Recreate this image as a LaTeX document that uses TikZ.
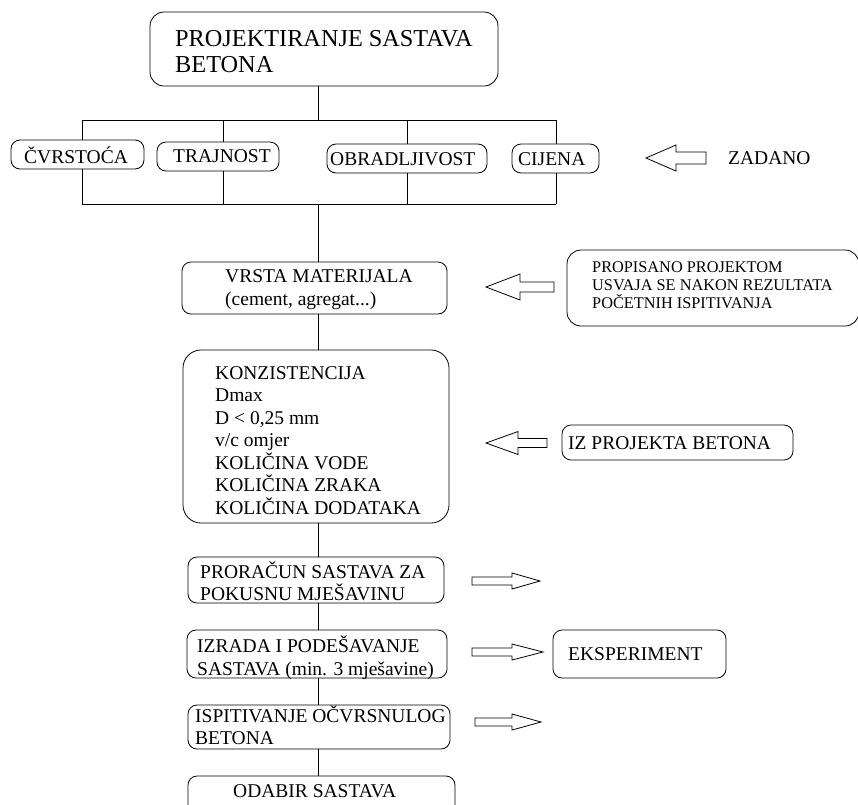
\documentclass[tikz,border=0pt]{standalone}
\usepackage{fontspec}
\setmainfont{Liberation Serif}
\newcommand\hollowarrow[6]{% tail, base, tip, y, shaft half, head half
  \draw[arr] ({#1},{#4-#5}) -- ({#2},{#4-#5}) -- ({#2},{#4-#6}) -- ({#3},{#4})
    -- ({#2},{#4+#6}) -- ({#2},{#4+#5}) -- ({#1},{#4+#5}) -- cycle;}
\begin{document}
\begin{tikzpicture}[x=1pt,y=-1pt,
  box/.style={draw, line width=0.8pt, rounded corners=9pt, inner sep=0pt},
  txt/.style={inner sep=0pt, anchor=base west, font=\fontsize{19.5}{22}\selectfont},
  small/.style={inner sep=0pt, anchor=base west, font=\fontsize{16.3}{18}\selectfont},
  big/.style={inner sep=0pt, anchor=base west, font=\fontsize{24.3}{26}\selectfont},
  arr/.style={draw, line width=0.8pt, line join=miter},
  conn/.style={draw, line width=0.8pt}]
\useasboundingbox (0,0) rectangle (858,804);
\fill[white] (0,0) rectangle (858,804);
\coordinate (axis) at (318,0);

% title
\node[box, rounded corners=14pt, minimum width=348pt, minimum height=74pt] (title) at (324,49) {};
\node[big] (title1) at (175,46.7) {PROJEKTIRANJE SASTAVA};
\node[big] (title2) at (175,72.7) {BETONA};

% bus coordinates
\coordinate (bt) at (318,120);
\coordinate (bL) at (82,120);
\coordinate (b2) at (223,120);
\coordinate (b3) at (407,120);
\coordinate (bR) at (556,120);
\coordinate (cL) at (82,204);
\coordinate (cR) at (556,204);
\coordinate (cm) at (318,204);

% requirement boxes
\node[box, minimum width=133pt, minimum height=29pt] (cv) at (77.5,154.5) {};
\node[txt] (cvt) at (24,163) {ČVRSTOĆA};
\node[box, minimum width=122pt, minimum height=29pt] (tr) at (218,156.5) {};
\node[txt] (trt) at (173,162) {TRAJNOST};
\node[box, minimum width=160pt, minimum height=29pt] (ob) at (407,158.5) {};
\node[txt] (obt) at (330,165) {OBRADLJIVOST};
\node[box, minimum width=87pt, minimum height=29pt] (ci) at (555.5,158.5) {};
\node[txt] (cit) at (518,165) {CIJENA};

\hollowarrow{706}{676}{646}{158}{6}{13}
\node[txt] (zad) at (728,164) {ZADANO};

% connectors of the bus
\draw[conn] (bt |- title.south) -- (bt);
\draw[conn] (bL) -- (bR);
\draw[conn] (bL) -- (bL |- cv.north);
\draw[conn] (b2) -- (b2 |- tr.north);
\draw[conn] (b3) -- (b3 |- ob.north);
\draw[conn] (bR) -- (bR |- ci.north);
\draw[conn] (bL |- cv.south) -- (cL);
\draw[conn] (b2 |- tr.south) -- (b2 |- cm);
\draw[conn] (b3 |- ob.south) -- (b3 |- cm);
\draw[conn] (bR |- ci.south) -- (cR);
\draw[conn] (cL) -- (cR);

% material
\node[box, minimum width=265pt, minimum height=52pt] (vm) at (314.5,288) {};
\node[txt] (vm1) at (225,282) {VRSTA MATERIJALA};
\node[txt] (vm2) at (225,305) {(cement, agregat...)};
\draw[conn] (cm) -- (axis |- vm.north);

\hollowarrow{554}{520}{486}{287}{5}{13}
\node[box, rounded corners=14pt, minimum width=292pt, minimum height=76pt] (prop) at (713,288) {};
\node[small] (p1) at (592,272) {PROPISANO PROJEKTOM};
\node[small] (p2) at (592,290) {USVAJA SE NAKON REZULTATA};
\node[small] (p3) at (592,308) {POČETNIH ISPITIVANJA};

% consistency block
\node[box, rounded corners=18pt, minimum width=266pt, minimum height=173pt] (konz) at (316,436.5) {};
\node[txt] (k1) at (215,379) {KONZISTENCIJA};
\node[txt] (k2) at (215,401.5) {Dmax};
\node[txt] (k3) at (215,424) {D < 0,25 mm};
\node[txt] (k4) at (215,446.5) {v/c omjer};
\node[txt] (k5) at (215,469) {KOLIČINA VODE};
\node[txt] (k6) at (215,491.5) {KOLIČINA ZRAKA};
\node[txt] (k7) at (215,514) {KOLIČINA DODATAKA};
\draw[conn] (axis |- vm.south) -- (axis |- konz.north);

\hollowarrow{547}{518}{486}{443}{4.5}{11.5}
\node[box, minimum width=231pt, minimum height=35pt] (iz) at (677.5,442.5) {};
\node[txt] (izt) at (568,449) {IZ PROJEKTA BETONA};

% calculation
\node[box, minimum width=256pt, minimum height=46pt] (pro) at (316,580) {};
\node[txt] (pr1) at (200,578) {PRORAČUN SASTAVA ZA};
\node[txt] (pr2) at (200,600) {POKUSNU MJEŠAVINU};
\draw[conn] (axis |- konz.south) -- (axis |- pro.north);
\hollowarrow{472}{512}{540}{581}{4}{8}

% mixing
\node[box, minimum width=260pt, minimum height=48pt] (izr) at (317,654) {};
\node[txt] (iz1) at (197,652) {IZRADA I PODEŠAVANJE};
\node[txt] (iz2) at (197,675) {SASTAVA (min. 3 mješavine)};
\draw[conn] (axis |- pro.south) -- (axis |- izr.north);
\hollowarrow{472}{512}{543}{652}{4}{8}
\node[box, minimum width=173pt, minimum height=48pt] (eks) at (639.5,654) {};
\node[txt] (ekst) at (568,660) {EKSPERIMENT};

% testing
\node[box, minimum width=262pt, minimum height=44pt] (isp) at (319,727) {};
\node[txt] (is1) at (195,722) {ISPITIVANJE OČVRSNULOG};
\node[txt] (is2) at (195,744) {BETONA};
\draw[conn] (axis |- izr.south) -- (axis |- isp.north);
\hollowarrow{475}{512}{541}{722}{4}{8}

% selection
\node[box, minimum width=267pt, minimum height=46pt] (oda) at (321.5,799) {};
\node[txt] (odt) at (233,797) {ODABIR SASTAVA};
\draw[conn] (axis |- isp.south) -- (axis |- oda.north);
\end{tikzpicture}
\end{document}
